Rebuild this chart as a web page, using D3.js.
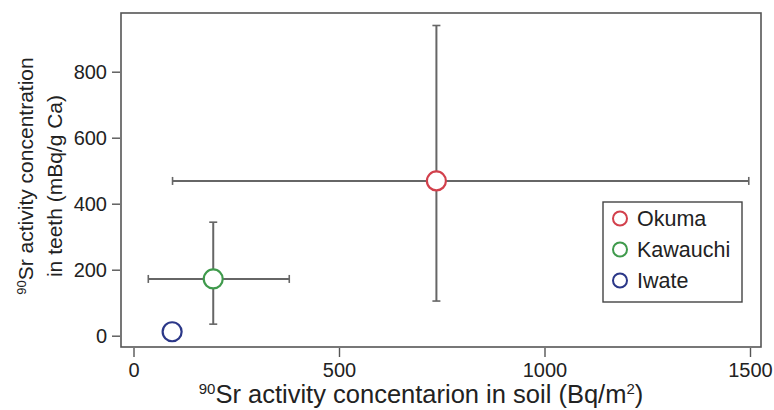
<!DOCTYPE html>
<html>
<head>
<meta charset="utf-8">
<script src="https://cdn.jsdelivr.net/npm/d3@7"></script>
<style>
    body { margin: 0; background: #fff; }
    svg { display: block; font-family: "Liberation Sans", Arial, Helvetica, sans-serif; }
</style>
</head>
<body>
<svg id="chart" width="774" height="410"></svg>
<script>
// sites and values
var sites = ["Okuma", "Kawauchi", "Iwate"];
var siteColors = ["#d2404c", "#3f9a4c", "#2b3788"];
var soil = [737, 194, 94];          // Bq/m2
var soilLow = [95, 36, null];
var soilHigh = [1497, 379, null];
var teeth = [469, 172, 12];         // mBq/g Ca
var teethLow = [105, 35, null];
var teethHigh = [940, 344, null];
var xTicks = [0, 500, 1000, 1500];
var yTicks = [0, 200, 400, 600, 800];

var svg = d3.select("#chart");

var frame = {left: 121, right: 761, top: 13, bottom: 347};
var x = d3.scaleLinear().domain([0, 1500]).range([133.5, 750]);
var y = d3.scaleLinear().domain([0, 800]).range([335.7, 71.7]);

var axisColor = "#555";

// frame box
svg.append("rect")
    .attr("x", frame.left).attr("y", frame.top)
    .attr("width", frame.right - frame.left)
    .attr("height", frame.bottom - frame.top)
    .attr("fill", "none").attr("stroke", axisColor).attr("stroke-width", 1.6);

// axes (ticks outward, labels)
var xAxis = svg.append("g")
    .attr("transform", "translate(0," + (frame.bottom + 1) + ")")
    .call(d3.axisBottom(x).tickValues(xTicks).tickSize(9).tickPadding(6).tickFormat(d3.format("d")));
var yAxis = svg.append("g")
    .attr("transform", "translate(" + (frame.left - 1) + ",0)")
    .call(d3.axisLeft(y).tickValues(yTicks).tickSize(8).tickPadding(5).tickFormat(d3.format("d")));

[xAxis, yAxis].forEach(function (g) {
    g.select(".domain").remove();
    g.selectAll(".tick line").attr("stroke", axisColor).attr("stroke-width", 1.4);
    g.selectAll(".tick text")
        .attr("fill", "#222")
        .style("font-size", "20px")
        .style("font-family", "'Liberation Sans', Arial, sans-serif");
})

// error bars
var barColor = "#666";
var cap = 4;
sites.forEach(function (site, i) {
    var g = svg.append("g").attr("class", "errbar");
    if (soilLow[i] != null) {
        g.append("line")
            .attr("x1", x(soilLow[i])).attr("x2", x(soilHigh[i]))
            .attr("y1", y(teeth[i])).attr("y2", y(teeth[i]))
            .attr("stroke", barColor).attr("stroke-width", 2);
        [soilLow[i], soilHigh[i]].forEach(function (v) {
            g.append("line")
                .attr("x1", x(v)).attr("x2", x(v))
                .attr("y1", y(teeth[i]) - cap).attr("y2", y(teeth[i]) + cap)
                .attr("stroke", barColor).attr("stroke-width", 1.6);
        })
    }
    if (teethLow[i] != null) {
        g.append("line")
            .attr("x1", x(soil[i])).attr("x2", x(soil[i]))
            .attr("y1", y(teethLow[i])).attr("y2", y(teethHigh[i]))
            .attr("stroke", barColor).attr("stroke-width", 2);
        [teethLow[i], teethHigh[i]].forEach(function (v) {
            g.append("line")
                .attr("x1", x(soil[i]) - cap).attr("x2", x(soil[i]) + cap)
                .attr("y1", y(v)).attr("y2", y(v))
                .attr("stroke", barColor).attr("stroke-width", 1.6);
        })
    }
})

// points
svg.selectAll("circle.pt")
    .data(sites)
    .enter().append("circle")
    .attr("class", "pt")
    .attr("cx", function (d, i) { return x(soil[i]); })
    .attr("cy", function (d, i) { return y(teeth[i]); })
    .attr("r", 9.5)
    .attr("fill", "#fff")
    .attr("stroke", function (d, i) { return siteColors[i]; })
    .attr("stroke-width", 2.2);

// legend
var legend = svg.append("g");
legend.append("rect")
    .attr("x", 603).attr("y", 202).attr("width", 139).attr("height", 100)
    .attr("fill", "#fff").attr("stroke", "#444").attr("stroke-width", 1.4);
sites.forEach(function (site, i) {
    var by = 226 + i * 31;
    legend.append("circle")
        .attr("cx", 620).attr("cy", by - 7.5).attr("r", 7)
        .attr("fill", "none").attr("stroke", siteColors[i]).attr("stroke-width", 2);
    legend.append("text")
        .attr("x", 637).attr("y", by)
        .attr("fill", "#222").style("font-size", "21.5px")
        .text(site);
})

// axis titles
var xTitle = svg.append("text")
    .attr("x", 421).attr("y", 403)
    .attr("text-anchor", "middle")
    .attr("fill", "#222").style("font-size", "25.5px");
xTitle.append("tspan").attr("dy", -9).style("font-size", "15px").text("90");
xTitle.append("tspan").attr("dy", 9).text("Sr activity concentarion in soil (Bq/m");
xTitle.append("tspan").attr("dy", -9).style("font-size", "15px").text("2");
xTitle.append("tspan").attr("dy", 9).text(")");

var yTitle1 = svg.append("text")
    .attr("transform", "translate(33,176) rotate(-90)")
    .attr("text-anchor", "middle")
    .attr("fill", "#222").style("font-size", "21px");
yTitle1.append("tspan").attr("dy", -7).style("font-size", "13px").text("90");
yTitle1.append("tspan").attr("dy", 7).text("Sr activity concentration");

svg.append("text")
    .attr("transform", "translate(62,186) rotate(-90)")
    .attr("text-anchor", "middle")
    .attr("fill", "#222").style("font-size", "21px")
    .text("in teeth (mBq/g Ca)");
</script>
</body>
</html>
